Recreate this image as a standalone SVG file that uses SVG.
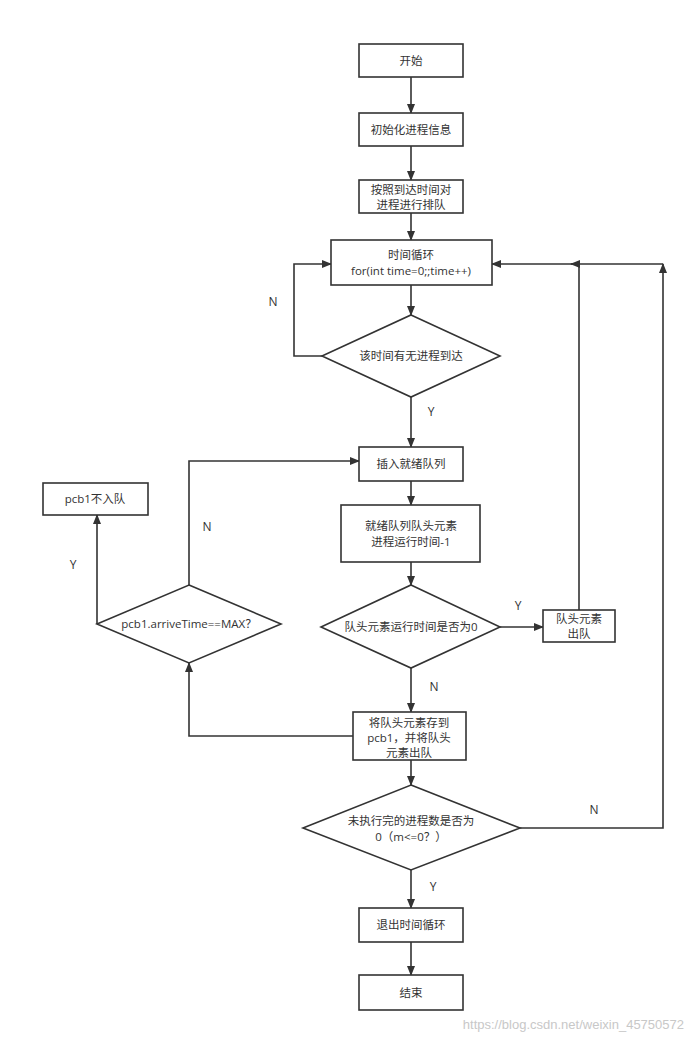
<svg xmlns="http://www.w3.org/2000/svg" width="692" height="1041" viewBox="0 0 692 1041">
<style>
.n{fill:#fff;stroke:#333;stroke-width:1.6}
.t{font-family:"Open Sans","Noto Sans CJK SC",sans-serif;font-size:11.5px;fill:#333;text-anchor:middle}
.l{font-family:"Open Sans",sans-serif;font-size:12px;fill:#333;text-anchor:middle}
.c{fill:none;stroke:#333;stroke-width:1.6}
</style>
<defs><marker id="a" markerWidth="10" markerHeight="8" refX="9" refY="4" orient="auto" markerUnits="userSpaceOnUse"><path d="M0,0L10,4L0,8z" fill="#333"/></marker></defs>
<rect width="692" height="1041" fill="#fff"/>
<g id="connectors">
<path class="c" marker-end="url(#a)" d="M411,77V113"/>
<path class="c" marker-end="url(#a)" d="M411,146V180"/>
<path class="c" marker-end="url(#a)" d="M411,213V240"/>
<path class="c" marker-end="url(#a)" d="M411,285V315"/>
<path class="c" marker-end="url(#a)" d="M322,356H294V264H331"/>
<path class="c" marker-end="url(#a)" d="M411,397V447"/>
<path class="c" marker-end="url(#a)" d="M411,481V505"/>
<path class="c" marker-end="url(#a)" d="M411,562V585"/>
<path class="c" marker-end="url(#a)" d="M500,627H543"/>
<path class="c" marker-end="url(#a)" d="M579,610V264H492"/>
<path class="c" marker-end="url(#a)" d="M411,668V712"/>
<path class="c" marker-end="url(#a)" d="M353,736H189V663"/>
<path class="c" marker-end="url(#a)" d="M189,585V461H359"/>
<path class="c" marker-end="url(#a)" d="M97,624V515"/>
<path class="c" marker-end="url(#a)" d="M411,760V785"/>
<path class="c" marker-end="url(#a)" d="M520,828H663V264"/>
<path class="c" marker-end="url(#a)" d="M663,264H571"/>
<path class="c" marker-end="url(#a)" d="M411,870V908"/>
<path class="c" marker-end="url(#a)" d="M411,942V975"/>
<text class="l" x="273" y="306">N</text>
<text class="l" x="431" y="416">Y</text>
<text class="l" x="207" y="531">N</text>
<text class="l" x="73" y="569">Y</text>
<text class="l" x="518" y="610">Y</text>
<text class="l" x="434" y="691">N</text>
<text class="l" x="594" y="814">N</text>
<text class="l" x="433" y="891">Y</text>
</g>
<g id="start"><rect class="n" x="359" y="44" width="104" height="33"/><text class="t" x="411" y="65">开始</text></g>
<g id="init"><rect class="n" x="359" y="113" width="104" height="33"/><text class="t" x="411" y="134">初始化进程信息</text></g>
<g id="sort"><rect class="n" x="359" y="180" width="104" height="33"/><text class="t" x="411" y="194">按照到达时间对</text><text class="t" x="411" y="209">进程进行排队</text></g>
<g id="loop"><rect class="n" x="331" y="240" width="161" height="45"/><text class="t" x="411" y="259">时间循环</text><text class="t" x="411" y="275">for(int time=0;;time++)</text></g>
<g id="d1"><path class="n" d="M411,315L500,356L411,397L322,356z"/><text class="t" x="411" y="360">该时间有无进程到达</text></g>
<g id="insert"><rect class="n" x="359" y="447" width="104" height="34"/><text class="t" x="411" y="468">插入就绪队列</text></g>
<g id="head"><rect class="n" x="341" y="505" width="139" height="57"/><text class="t" x="411" y="530">就绪队列队头元素</text><text class="t" x="411" y="546">进程运行时间-1</text></g>
<g id="d2"><path class="n" d="M411,585L500,627L411,668L321,627z"/><text class="t" x="411" y="631">队头元素运行时间是否为0</text></g>
<g id="dequeue"><rect class="n" x="543" y="610" width="72" height="32"/><text class="t" x="579" y="623">队头元素</text><text class="t" x="579" y="638">出队</text></g>
<g id="store"><rect class="n" x="353" y="712" width="113" height="48"/><text class="t" x="409" y="727">将队头元素存到</text><text class="t" x="409" y="742">pcb1，并将队头</text><text class="t" x="409" y="757">元素出队</text></g>
<g id="dpcb"><path class="n" d="M189,585L281,624L189,663L97,624z"/><text class="t" x="189" y="628">pcb1.arriveTime==MAX？</text></g>
<g id="noenq"><rect class="n" x="43" y="483" width="105" height="32"/><text class="t" x="95" y="503">pcb1不入队</text></g>
<g id="d3"><path class="n" d="M411,785L520,828L411,870L303,828z"/><text class="t" x="411" y="825">未执行完的进程数是否为</text><text class="t" x="411" y="841">0（m&lt;=0？）</text></g>
<g id="exit"><rect class="n" x="359" y="908" width="104" height="34"/><text class="t" x="411" y="929">退出时间循环</text></g>
<g id="end"><rect class="n" x="359" y="975" width="104" height="35"/><text class="t" x="411" y="997">结束</text></g>
<text x="684" y="1029" font-family="Liberation Sans,sans-serif" font-size="13" fill="#c8c8c8" text-anchor="end">https://blog.csdn.net/weixin_45750572</text>
</svg>
